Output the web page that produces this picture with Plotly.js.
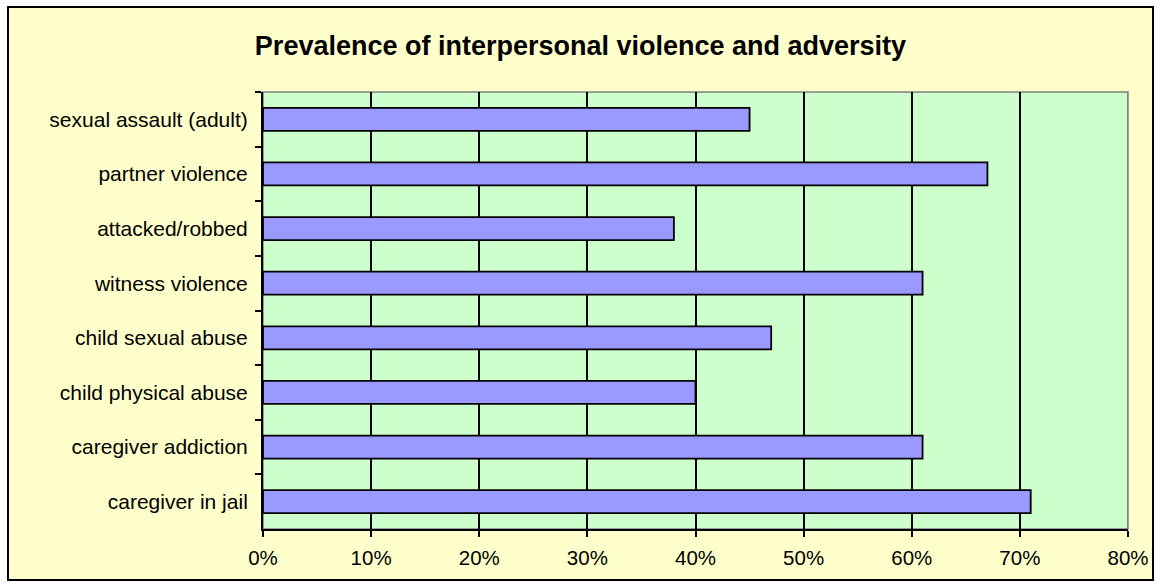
<!DOCTYPE html>
<html>
<head>
<meta charset="utf-8">
<script src="https://cdn.plot.ly/plotly-3.0.1.min.js"></script>
<style>html,body{margin:0;padding:0;background:#fff;}#chart{width:1161px;height:587px;}</style>
</head>
<body>
<div id="chart"></div>
<script>
const categories = [
  "sexual assault (adult)",
  "partner violence",
  "attacked/robbed",
  "witness violence",
  "child sexual abuse",
  "child physical abuse",
  "caregiver addiction",
  "caregiver in jail"
];
const prevalence = [45, 67, 38, 61, 47, 40, 61, 71];
const xTickValues = [0, 10, 20, 30, 40, 50, 60, 70, 80];
const xTickLabels = ["0%", "10%", "20%", "30%", "40%", "50%", "60%", "70%", "80%"];
const chartTitle = "Prevalence of interpersonal violence and adversity";

const W = 1161, H = 587;
const L = 263, R = 33, T = 92, B = 58;
const pw = W - L - R, ph = H - T - B;
function px2x(p){ return (p - L) / pw; }
function py2y(p){ return (H - B - p) / ph; }

const trace = {
  type: "bar",
  orientation: "h",
  x: prevalence,
  y: categories,
  marker: { color: "#9999FF", line: { color: "#000000", width: 1.8 } },
  hoverinfo: "x+y"
};

const layout = {
  width: W, height: H,
  margin: { l: L, r: R, t: T, b: B, pad: 0 },
  paper_bgcolor: "#FFFFFF",
  plot_bgcolor: "rgba(0,0,0,0)",
  showlegend: false,
  bargap: 0.58,
  font: { family: "Liberation Sans, Arial, sans-serif", color: "#000000", size: 20 },
  title: {
    text: "<b>" + chartTitle + "</b>",
    font: { family: "Liberation Sans, Arial, sans-serif", size: 27, color: "#000000" },
    x: 0.5, xanchor: "center", xref: "container",
    y: 1 - 46 / H, yanchor: "middle", yref: "container"
  },
  xaxis: {
    range: [0, 80],
    tickvals: xTickValues,
    ticktext: xTickLabels,
    showgrid: true, gridcolor: "#000000", gridwidth: 2,
    zeroline: false,
    showline: true, linecolor: "#000000", linewidth: 2,
    ticks: "outside", ticklen: 6, tickcolor: "#000000", tickwidth: 2,
    ticklabelstandoff: 3,
    tickfont: { size: 20.5 },
    fixedrange: true
  },
  yaxis: {
    type: "category",
    autorange: "reversed",
    showgrid: false, zeroline: false,
    showline: true, linecolor: "#000000", linewidth: 2,
    ticks: "outside", ticklen: 6, tickcolor: "#000000", tickwidth: 2,
    tickson: "boundaries",
    ticklabelstandoff: 9,
    tickfont: { size: 21 },
    fixedrange: true
  },
  shapes: [
    { type: "rect", layer: "below", xref: "paper", yref: "paper",
      x0: px2x(8), x1: px2x(1153), y0: py2y(580), y1: py2y(7),
      fillcolor: "#FFFFCC", line: { color: "#000000", width: 2 } },
    { type: "rect", layer: "below", xref: "paper", yref: "paper",
      x0: 0, x1: 1, y0: 0, y1: 1,
      fillcolor: "#CCFFCC", line: { color: "#808080", width: 1.5 } },
    { type: "line", layer: "above", xref: "x", yref: "paper",
      x0: 80, x1: 80, y0: 0, y1: 1, line: { color: "#808080", width: 2 } }
  ]
};

Plotly.newPlot("chart", [trace], layout, { displayModeBar: false, staticPlot: true });
</script>
</body>
</html>
